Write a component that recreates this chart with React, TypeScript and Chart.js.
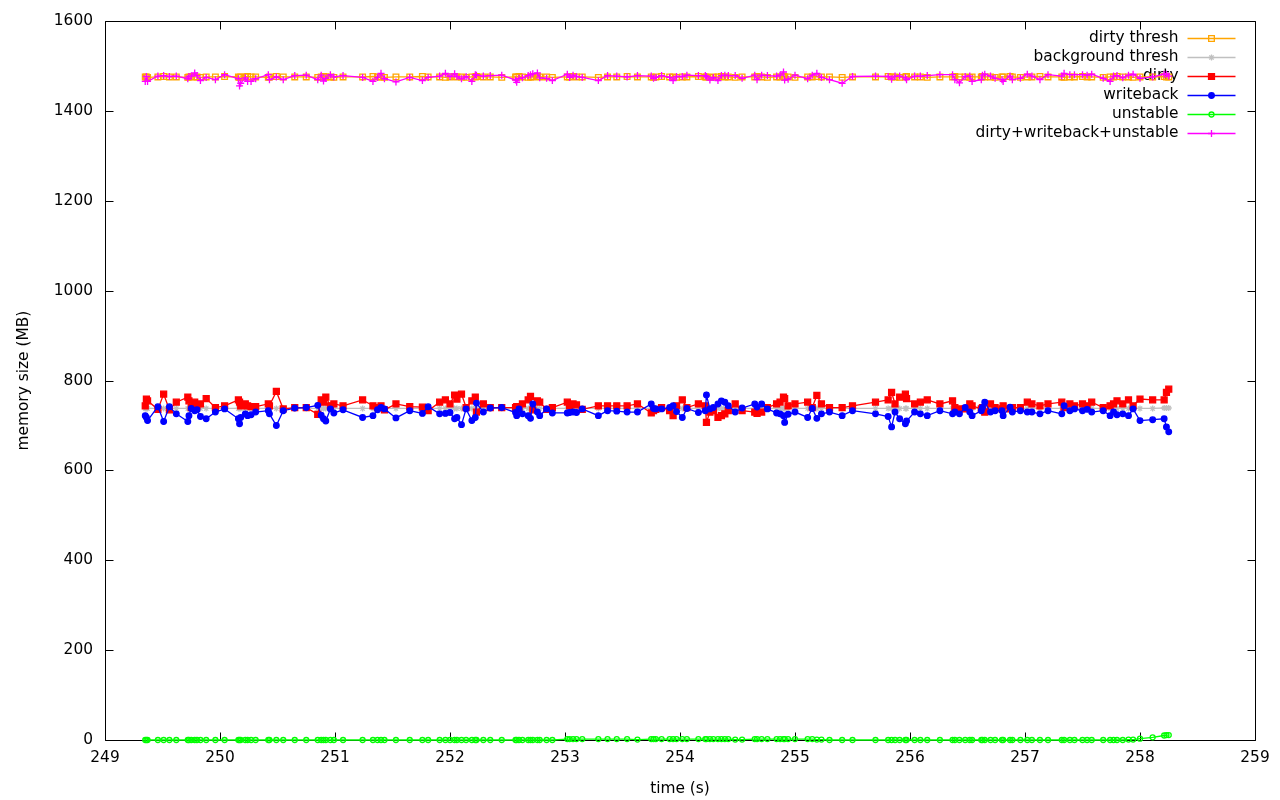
import React, { useEffect, useRef } from 'react';
import { Chart, registerables } from 'chart.js';
import { drawPoint } from 'chart.js/helpers';

Chart.register(...registerables);

const FONT = '"DejaVu Sans", "Liberation Sans", sans-serif';
const FONT_SIZE = 15.4;

const xTickValues = [249, 250, 251, 252, 253, 254, 255, 256, 257, 258, 259];
const yTickValues = [0, 200, 400, 600, 800, 1000, 1200, 1400, 1600];

const times = [
  249.35, 249.36, 249.37, 249.46, 249.51, 249.56, 249.62, 249.72, 249.73, 249.75,
  249.78, 249.80, 249.83, 249.88, 249.96, 250.04, 250.16, 250.17, 250.18, 250.22,
  250.24, 250.27, 250.31, 250.42, 250.43, 250.49, 250.55, 250.65, 250.75, 250.85,
  250.88, 250.90, 250.92, 250.96, 250.99, 251.07, 251.24, 251.33, 251.37, 251.40,
  251.43, 251.53, 251.65, 251.76, 251.81, 251.91, 251.96, 252.00, 252.04, 252.06,
  252.10, 252.14, 252.19, 252.22, 252.23, 252.29, 252.35, 252.45, 252.57, 252.58,
  252.60, 252.63, 252.68, 252.70, 252.72, 252.76, 252.78, 252.84, 252.89, 253.02,
  253.04, 253.07, 253.10, 253.15, 253.29, 253.37, 253.45, 253.54, 253.63, 253.75,
  253.77, 253.79, 253.84, 253.91, 253.94, 253.97, 254.02, 254.06, 254.16, 254.22,
  254.23, 254.26, 254.29, 254.33, 254.36, 254.39, 254.42, 254.48, 254.54, 254.65,
  254.67, 254.71, 254.76, 254.84, 254.87, 254.90, 254.91, 254.94, 255.00, 255.11,
  255.15, 255.19, 255.23, 255.30, 255.41, 255.50, 255.70, 255.81, 255.84, 255.87,
  255.91, 255.96, 255.97, 256.04, 256.09, 256.15, 256.26, 256.37, 256.39, 256.43,
  256.48, 256.52, 256.54, 256.62, 256.63, 256.65, 256.70, 256.74, 256.80, 256.81,
  256.87, 256.89, 256.96, 257.02, 257.06, 257.13, 257.20, 257.32, 257.34, 257.39,
  257.43, 257.50, 257.54, 257.58, 257.68, 257.74, 257.77, 257.80, 257.85, 257.90,
  257.94, 258.00, 258.11, 258.21, 258.23, 258.25,
];

const dirtyThresh = [
  1476, 1476, 1475, 1476, 1477, 1476, 1476, 1475, 1476, 1477,
  1476, 1476, 1475, 1476, 1476, 1477, 1476, 1475, 1476, 1476,
  1477, 1476, 1476, 1475, 1476, 1477, 1476, 1476, 1476, 1475,
  1476, 1477, 1476, 1476, 1475, 1476, 1476, 1477, 1476, 1476,
  1475, 1476, 1476, 1477, 1476, 1476, 1475, 1476, 1477, 1476,
  1476, 1475, 1476, 1476, 1477, 1476, 1476, 1475, 1476, 1476,
  1477, 1476, 1475, 1476, 1476, 1477, 1476, 1476, 1475, 1476,
  1476, 1477, 1476, 1476, 1475, 1476, 1476, 1477, 1476, 1476,
  1475, 1476, 1477, 1476, 1476, 1475, 1476, 1476, 1477, 1476,
  1476, 1475, 1476, 1476, 1477, 1476, 1476, 1475, 1476, 1476,
  1477, 1476, 1475, 1476, 1476, 1477, 1476, 1476, 1475, 1476,
  1476, 1477, 1476, 1476, 1475, 1476, 1476, 1477, 1476, 1476,
  1475, 1476, 1477, 1476, 1476, 1475, 1476, 1476, 1477, 1476,
  1476, 1475, 1476, 1476, 1477, 1476, 1476, 1475, 1476, 1476,
  1477, 1476, 1475, 1476, 1476, 1477, 1476, 1476, 1475, 1476,
  1476, 1477, 1476, 1476, 1475, 1476, 1476, 1477, 1476, 1476,
  1475, 1476, 1476, 1477, 1476, 1476,
];

const backgroundThresh = [
  738, 738, 738, 738, 738, 738, 738, 738, 738, 738,
  738, 738, 738, 738, 738, 738, 738, 738, 738, 738,
  738, 738, 738, 738, 738, 738, 738, 738, 738, 738,
  738, 738, 738, 738, 738, 738, 738, 738, 738, 738,
  738, 738, 738, 738, 738, 738, 738, 738, 738, 738,
  738, 738, 738, 738, 738, 738, 738, 738, 738, 738,
  738, 738, 738, 738, 738, 738, 738, 738, 738, 738,
  738, 738, 738, 738, 738, 738, 738, 738, 738, 738,
  738, 738, 738, 738, 738, 738, 738, 738, 738, 738,
  738, 738, 738, 738, 738, 738, 738, 738, 738, 738,
  738, 738, 738, 738, 738, 738, 738, 738, 738, 738,
  738, 738, 738, 738, 738, 738, 738, 738, 738, 738,
  738, 738, 738, 738, 738, 738, 738, 738, 738, 738,
  738, 738, 738, 738, 738, 738, 738, 738, 738, 738,
  738, 738, 738, 738, 738, 738, 738, 738, 738, 738,
  738, 738, 738, 738, 738, 738, 738, 738, 738, 738,
  738, 738, 738, 739, 739, 739,
];

const dirty = [
  744, 759, 755, 736, 770, 735, 752, 763, 755, 740,
  752, 744, 748, 760, 740, 744, 757, 752, 744, 748,
  744, 742, 742, 748, 744, 776, 737, 740, 740, 725,
  757, 752, 763, 744, 748, 744, 757, 744, 740, 744,
  735, 748, 742, 741, 733, 752, 757, 748, 768, 759,
  770, 740, 755, 763, 730, 748, 740, 740, 740, 742,
  736, 748, 757, 765, 735, 755, 752, 736, 740, 752,
  744, 748, 746, 736, 744, 744, 744, 744, 748, 728,
  733, 736, 740, 733, 722, 744, 757, 740, 748, 744,
  707, 730, 733, 718, 722, 726, 733, 748, 733, 730,
  727, 730, 740, 748, 752, 763, 760, 744, 748, 752,
  740, 767, 748, 740, 740, 744, 752, 757, 774, 748,
  763, 770, 760, 748, 752, 757, 748, 755, 740, 737,
  737, 748, 744, 737, 740, 730, 748, 740, 737, 744,
  737, 740, 740, 752, 748, 744, 748, 752, 740, 748,
  744, 748, 744, 752, 740, 744, 748, 755, 748, 757,
  744, 759, 757, 757, 774, 781,
];

const writeback = [
  722, 718, 711, 742, 709, 742, 726, 709, 722, 738,
  733, 735, 720, 715, 730, 737, 715, 704, 718, 726,
  722, 724, 730, 733, 726, 700, 733, 739, 740, 745,
  723, 715, 710, 737, 728, 735, 718, 722, 735, 740,
  737, 717, 733, 727, 742, 726, 727, 729, 715, 718,
  702, 737, 711, 718, 750, 730, 739, 740, 729, 722,
  737, 726, 722, 716, 748, 730, 722, 737, 728, 728,
  729, 730, 729, 737, 722, 733, 732, 730, 730, 748,
  738, 737, 737, 740, 744, 731, 718, 738, 729, 733,
  768, 737, 740, 748, 755, 752, 744, 730, 739, 748,
  741, 748, 737, 728, 726, 722, 707, 725, 730, 718,
  738, 716, 726, 730, 722, 733, 726, 720, 697, 730,
  715, 704, 710, 730, 726, 722, 733, 726, 730, 726,
  740, 730, 722, 733, 740, 752, 730, 733, 733, 722,
  741, 730, 733, 730, 730, 726, 733, 726, 744, 733,
  737, 733, 736, 730, 733, 722, 730, 724, 726, 722,
  737, 711, 713, 715, 697, 686,
];

const unstable = [
  0, 0, 0, 0, 0, 0, 0, 0, 0, 0,
  0, 0, 0, 0, 0, 0, 0, 0, 0, 0,
  0, 0, 0, 0, 0, 0, 0, 0, 0, 0,
  0, 0, 0, 0, 0, 0, 0, 0, 0, 0,
  0, 0, 0, 0, 0, 0, 0, 0, 0, 0,
  0, 0, 0, 0, 0, 0, 0, 0, 0, 0,
  0, 0, 0, 0, 0, 0, 0, 0, 0, 2,
  2, 2, 2, 2, 2, 2, 2, 2, 1, 2,
  2, 2, 2, 2, 2, 2, 2, 2, 2, 2,
  2, 2, 2, 2, 2, 2, 2, 1, 1, 2,
  2, 2, 2, 2, 2, 2, 2, 2, 2, 2,
  2, 1, 1, 0, 0, 0, 0, 0, 0, 0,
  0, 0, 0, 0, 0, 0, 0, 0, 0, 0,
  0, 0, 0, 0, 0, 0, 0, 0, 0, 0,
  0, 0, 0, 0, 0, 0, 0, 0, 0, 0,
  0, 0, 0, 0, 0, 0, 0, 0, 0, 1,
  1, 3, 6, 10, 11, 11,
];

const total = [
  1466, 1477, 1466, 1478, 1479, 1477, 1478, 1472, 1477, 1478,
  1485, 1479, 1468, 1475, 1470, 1481, 1472, 1456, 1462, 1474,
  1466, 1466, 1472, 1481, 1470, 1476, 1470, 1479, 1480, 1470,
  1480, 1467, 1473, 1481, 1476, 1479, 1475, 1466, 1475, 1484,
  1472, 1465, 1475, 1468, 1475, 1478, 1484, 1477, 1483, 1477,
  1472, 1477, 1466, 1481, 1480, 1478, 1479, 1480, 1469, 1464,
  1473, 1474, 1479, 1481, 1483, 1485, 1474, 1473, 1468, 1482,
  1475, 1480, 1477, 1475, 1468, 1479, 1478, 1476, 1479, 1478,
  1473, 1475, 1479, 1475, 1468, 1477, 1477, 1480, 1479, 1479,
  1477, 1469, 1475, 1468, 1479, 1480, 1479, 1479, 1473, 1480,
  1470, 1480, 1479, 1478, 1480, 1487, 1469, 1471, 1480, 1472,
  1480, 1484, 1475, 1470, 1462, 1477, 1478, 1477, 1471, 1478,
  1478, 1474, 1470, 1478, 1478, 1479, 1481, 1481, 1470, 1463,
  1477, 1478, 1466, 1470, 1480, 1482, 1478, 1473, 1470, 1466,
  1478, 1470, 1473, 1482, 1478, 1470, 1481, 1478, 1484, 1481,
  1481, 1481, 1480, 1482, 1473, 1466, 1478, 1479, 1474, 1480,
  1482, 1473, 1476, 1482, 1482, 1478,
];

type SeriesDef = {
  label: string;
  values: number[];
  color: string;
  style: string;
  radius: number;
  filled: boolean;
};

const seriesDefs: SeriesDef[] = [
  { label: 'dirty thresh', values: dirtyThresh, color: '#ffa500', style: 'rect', radius: 4, filled: false },
  { label: 'background thresh', values: backgroundThresh, color: '#c0c0c0', style: 'star', radius: 3, filled: false },
  { label: 'dirty', values: dirty, color: '#ff0000', style: 'rect', radius: 4.2, filled: true },
  { label: 'writeback', values: writeback, color: '#0000ff', style: 'circle', radius: 2.8, filled: true },
  { label: 'unstable', values: unstable, color: '#00ff00', style: 'circle', radius: 2.5, filled: false },
  { label: 'dirty+writeback+unstable', values: total, color: '#ff00ff', style: 'cross', radius: 3.5, filled: false },
];

const LINE_W = 1.3;

const gnuplotPlugin = {
  id: 'gnuplotFrame',
  beforeDatasetsDraw(chart: any) {
    const { ctx, chartArea, scales } = chart;
    const { left, right, top, bottom } = chartArea;
    const xs = scales.x;
    const ys = scales.y;
    const L = Math.round(left) + 0.5;
    const R = Math.round(right) + 0.5;
    const T = Math.round(top) + 0.5;
    const B = Math.round(bottom) + 0.5;
    const tick = 8;
    ctx.save();
    ctx.strokeStyle = '#000000';
    ctx.lineWidth = 1;
    ctx.beginPath();
    ctx.rect(L, T, R - L, B - T);
    yTickValues.forEach((v) => {
      const py = Math.round(ys.getPixelForValue(v)) + 0.5;
      ctx.moveTo(L, py);
      ctx.lineTo(L + tick, py);
      ctx.moveTo(R, py);
      ctx.lineTo(R - tick, py);
    });
    xTickValues.forEach((v) => {
      const px = Math.round(xs.getPixelForValue(v)) + 0.5;
      ctx.moveTo(px, B);
      ctx.lineTo(px, B - tick);
      ctx.moveTo(px, T);
      ctx.lineTo(px, T + tick);
    });
    ctx.stroke();

    // gnuplot-style key at top right
    ctx.font = FONT_SIZE + 'px ' + FONT;
    ctx.textAlign = 'right';
    ctx.textBaseline = 'middle';
    seriesDefs.forEach((s, i) => {
      const yy = Math.round(top) + 17 + i * 19;
      ctx.save();
      ctx.fillStyle = '#000000';
      ctx.fillText(s.label, R - 77, yy);
      ctx.strokeStyle = s.color;
      ctx.lineWidth = LINE_W;
      ctx.beginPath();
      ctx.moveTo(R - 68, yy + 0.5);
      ctx.lineTo(R - 20, yy + 0.5);
      ctx.stroke();
      ctx.strokeStyle = s.color;
      ctx.fillStyle = s.filled ? s.color : 'rgba(0,0,0,0)';
      drawPoint(ctx, { pointStyle: s.style as any, rotation: 0, radius: s.radius, borderWidth: LINE_W }, R - 44, yy + 0.5);
      ctx.restore();
    });
    ctx.restore();
  },
};

export default function App() {
  const ref = useRef<HTMLCanvasElement>(null);

  useEffect(() => {
    if (!ref.current) return;
    const n = seriesDefs.length;
    const chart = new Chart(ref.current, {
      type: 'line',
      data: {
        datasets: seriesDefs.map((s, i) => ({
          label: s.label,
          data: times.map((t, k) => ({ x: t, y: s.values[k] })),
          borderColor: s.color,
          backgroundColor: s.filled ? s.color : 'rgba(0,0,0,0)',
          pointBorderColor: s.color,
          pointBackgroundColor: s.filled ? s.color : 'rgba(0,0,0,0)',
          pointStyle: s.style as any,
          pointRadius: s.radius,
          pointHoverRadius: s.radius,
          pointBorderWidth: LINE_W,
          borderWidth: LINE_W,
          tension: 0,
          fill: false,
          clip: false as any,
          order: n - i,
        })),
      },
      options: {
        animation: false,
        responsive: false,
        devicePixelRatio: 1,
        events: [],
        layout: { padding: { top: 18, right: 25, left: 0, bottom: 0 } },
        plugins: {
          legend: { display: false },
          tooltip: { enabled: false },
        },
        scales: {
          x: {
            type: 'linear',
            min: 249,
            max: 259,
            afterBuildTicks: (s: any) => {
              s.ticks = xTickValues.map((v) => ({ value: v }));
            },
            ticks: {
              color: '#000',
              font: { size: FONT_SIZE, family: FONT },
              padding: 9,
              maxRotation: 0,
              autoSkip: false,
              callback: (v: any) => String(v),
            },
            grid: { display: false, drawTicks: false },
            border: { display: false },
            title: {
              display: true,
              text: 'time (s)',
              color: '#000',
              font: { size: FONT_SIZE, family: FONT },
              padding: { top: 0, bottom: 2 },
            },
            afterFit: (s: any) => {
              s.height = 60;
            },
          },
          y: {
            type: 'linear',
            min: 0,
            max: 1600,
            afterBuildTicks: (s: any) => {
              s.ticks = yTickValues.map((v) => ({ value: v }));
            },
            ticks: {
              color: '#000',
              font: { size: FONT_SIZE, family: FONT },
              padding: 12,
              autoSkip: false,
              callback: (v: any) => String(v),
            },
            grid: { display: false, drawTicks: false },
            border: { display: false },
            title: {
              display: true,
              text: 'memory size (MB)',
              color: '#000',
              font: { size: FONT_SIZE, family: FONT },
              padding: { top: 15, bottom: 0 },
            },
            afterFit: (s: any) => {
              s.width = 105;
            },
          },
        },
      },
      plugins: [gnuplotPlugin],
    });
    return () => chart.destroy();
  }, []);

  return (
    <div style={{ position: 'fixed', left: 0, top: 0, width: 1280, height: 800, background: '#fff' }}>
      <canvas ref={ref} width={1280} height={800} style={{ display: 'block' }} />
    </div>
  );
}
